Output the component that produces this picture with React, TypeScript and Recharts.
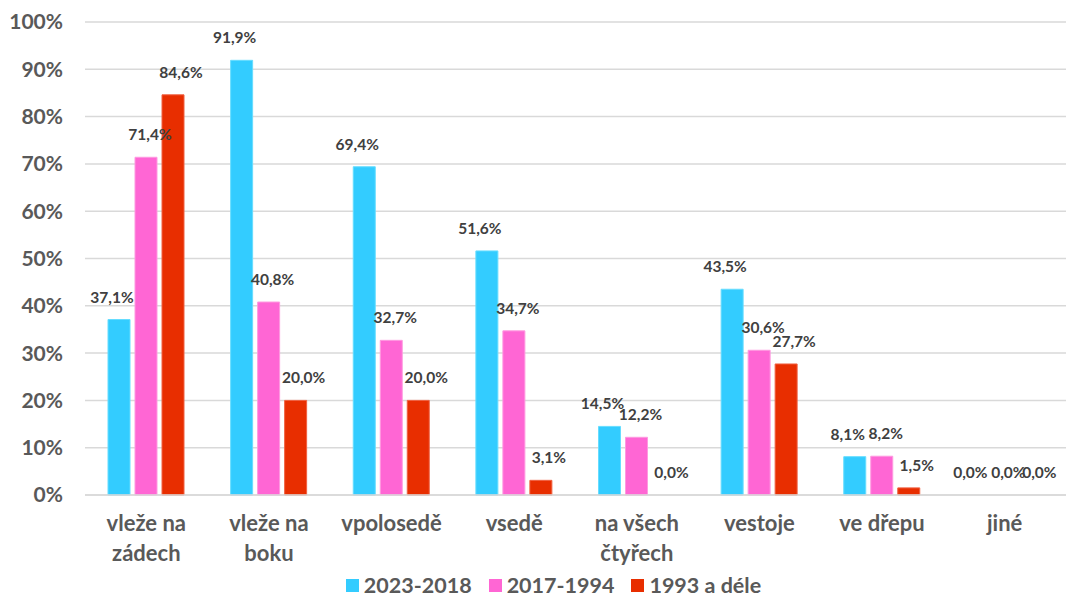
import { BarChart, Bar, XAxis, YAxis, CartesianGrid, Legend, LabelList, Cell } from "recharts";

const categories = [
  "vleže na\nzádech",
  "vleže na\nboku",
  "vpolosedě",
  "vsedě",
  "na všech\nčtyřech",
  "vestoje",
  "ve dřepu",
  "jiné",
];
const series2023 = [37.1, 91.9, 69.4, 51.6, 14.5, 43.5, 8.1, 0.0];
const series2017 = [71.4, 40.8, 32.7, 34.7, 12.2, 30.6, 8.2, 0.0];
const series1993 = [84.6, 20.0, 20.0, 3.1, 0.0, 27.7, 1.5, 0.0];
const yTicks = [0, 10, 20, 30, 40, 50, 60, 70, 80, 90, 100];

const data = categories.map((name, i) => ({
  name,
  a: series2023[i],
  b: series2017[i],
  c: series1993[i],
}));

const seriesMeta = [
  { key: "a", name: "2023-2018", fill: "#33ccff", stroke: "#66ddff", dx: -7, values: series2023 },
  { key: "b", name: "2017-1994", fill: "#ff66d4", stroke: "#ff99e0", dx: 4, values: series2017 },
  { key: "c", name: "1993 a déle", fill: "#e82e00", stroke: "#f06040", dx: 8, values: series1993 },
];

const FONT = "Lato, 'Noto Sans', sans-serif";
const fmt = (v: any) => `${Number(v).toFixed(1).replace(".", ",")}%`;

function CatTick({ x, y, payload }: any) {
  const lines = String(payload.value).split("\n");
  return (
    <text x={x} y={y} textAnchor="middle" fill="#595959" fontSize={22} fontWeight={700} fontFamily={FONT}>
      {lines.map((l, i) => (
        <tspan key={i} x={x} dy={i === 0 ? 28 : 30}>
          {l}
        </tspan>
      ))}
    </text>
  );
}

function makeLabel(dx: number) {
  return (props: any) => {
    const { x, y, width, value } = props;
    return (
      <text
        x={Number(x) + Number(width) / 2 + dx}
        y={Number(y) - 17}
        textAnchor="middle"
        fill="#404040"
        fontSize={15.5}
        fontWeight={700}
        fontFamily={FONT}
      >
        {fmt(value)}
      </text>
    );
  };
}

function LegendContent() {
  return (
    <div
      style={{
        display: "flex",
        justifyContent: "center",
        gap: 17,
        marginLeft: 35,
        fontFamily: FONT,
        fontSize: 21.5,
        fontWeight: 700,
        color: "#595959",
        lineHeight: "24px",
      }}
    >
      {seriesMeta.map((s) => (
        <div key={s.key} style={{ display: "flex", alignItems: "center", gap: 5 }}>
          <span style={{ width: 13, height: 13, background: s.fill, display: "inline-block" }} />
          <span>{s.name}</span>
        </div>
      ))}
    </div>
  );
}

export default function App() {
  return (
    <div style={{ position: "absolute", left: 0, top: 0, background: "#fff" }}>
      <BarChart
        width={1072}
        height={597}
        data={data}
        margin={{ top: 22, right: 6, bottom: 0, left: 0 }}
        barSize={22}
        barGap={5}
      >
        <CartesianGrid vertical={false} stroke="#d9d9d9" strokeWidth={1.5} />
        <XAxis
          dataKey="name"
          axisLine={{ stroke: "#d9d9d9", strokeWidth: 1.5 }}
          tickLine={false}
          interval={0}
          tick={<CatTick />}
          height={78}
        />
        <YAxis
          domain={[0, 100]}
          ticks={yTicks}
          tickFormatter={(v) => `${v}%`}
          axisLine={false}
          tickLine={false}
          tickSize={0}
          tickMargin={22}
          width={85}
          tick={{ fill: "#595959", fontSize: 21, fontWeight: 700, fontFamily: FONT }}
        />
        <Legend
          verticalAlign="bottom"
          content={<LegendContent />}
          wrapperStyle={{ bottom: 0, left: 0, width: 1072, height: 24 }}
        />
        {seriesMeta.map((s) => (
          <Bar
            key={s.key}
            dataKey={s.key}
            name={s.name}
            fill={s.fill}
            strokeWidth={1}
            minPointSize={0.01}
            isAnimationActive={false}
          >
            {s.values.map((v, i) => (
              <Cell key={i} stroke={v > 0 ? s.stroke : "none"} />
            ))}
            <LabelList dataKey={s.key} content={makeLabel(s.dx)} />
          </Bar>
        ))}
      </BarChart>
    </div>
  );
}
